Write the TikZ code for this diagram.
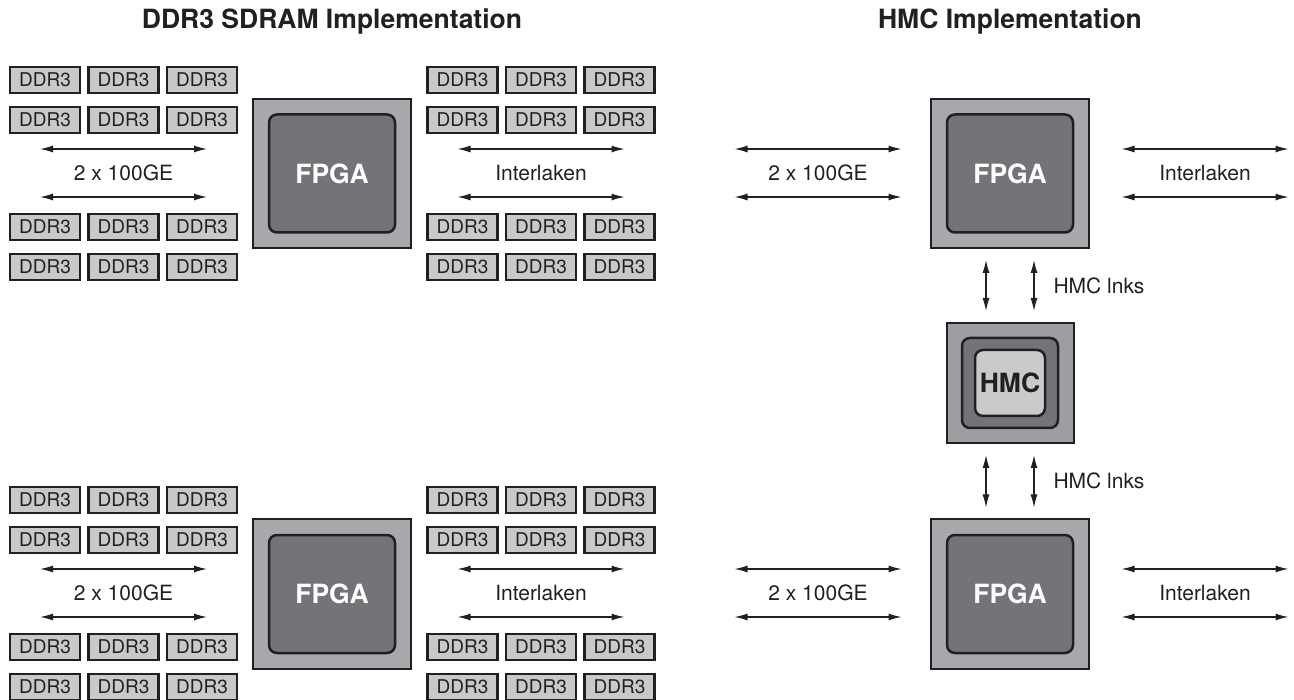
\documentclass[tikz,border=0pt]{standalone}
\usepackage{fontspec}
\setmainfont{TeX Gyre Heros}
\usetikzlibrary{calc,arrows.meta}

\definecolor{inkline}{HTML}{231F20}
\definecolor{ddrfill}{HTML}{C8C9CB}
\definecolor{pkgfill}{HTML}{A8A9AC}
\definecolor{diefill}{HTML}{737478}
\definecolor{hmcouter}{HTML}{9D9EA1}
\definecolor{hmcinner}{HTML}{C9CACC}

\tikzset{
	headline/.style={font=\bfseries\fontsize{26.5}{26.5}\selectfont, text=inkline},
	ddr/.style={draw=inkline, line width=2.4pt, fill=ddrfill, minimum width=70pt, minimum height=26pt, inner sep=0pt, text=inkline, font=\fontsize{19}{19}\selectfont},
	pkg/.style={draw=inkline, line width=2pt, fill=pkgfill, inner sep=0pt},
	die/.style={draw=inkline, line width=2.5pt, fill=diefill, rounded corners=8pt, inner sep=0pt, text=white, font=\bfseries\fontsize{26.5}{26.5}\selectfont},
	lbl/.style={text=inkline, font=\fontsize{21}{21}\selectfont},
	link/.style={{Latex[length=13pt,width=7pt]}-{Latex[length=13pt,width=7pt]}, line width=1.2pt, draw=inkline},
}

% two arrows with a label between them
\newcommand{\linkpair}[4]{%
	\node[lbl] (#1) at ({#2},{#3}) {#4};
	\draw[link] ($(#1)+(-83.5,-24)$) -- ($(#1)+(83.5,-24)$);
	\draw[link] ($(#1)+(-83.5,24)$) -- ($(#1)+(83.5,24)$);
}
% 4 x 3 DDR3 chips round a link pair
\newcommand{\ddrgroup}[4]{%
	\foreach \c/\dx in {a/-78.5,b/0,c/78.5} {
		\foreach \r/\ry in {1/80,2/120,3/227,4/267} {
			\node[ddr] (#3-\r\c) at ({#1+\dx},{#2+\ry}) {DDR3};
		}
	}
	\linkpair{#3-lbl}{#1}{#2+173}{#4}
}
\newcommand{\fpga}[3]{%
	\node[pkg, minimum width=158pt, minimum height=149pt] (#1) at ({#2},{#3}) {};
	\node[die, minimum width=126pt, minimum height=118pt] (#1-die) at (#1) {FPGA};
}

\begin{document}
\begin{tikzpicture}[x=1pt, y=-1pt]
		%%%%% START %%%%%
		\useasboundingbox (0,0) rectangle (1294,700);
		
		\node[headline] (ddrtitle) at (332,22) {DDR3 SDRAM Implementation};
		\node[headline] (hmctitle) at (1010,22) {HMC Implementation};
		
		% DDR3 side
		\ddrgroup{123.5}{0}{ddrTL}{2 x 100GE}
		\ddrgroup{541}{0}{ddrTR}{Interlaken}
		\fpga{fpgaA}{332}{173.5}
		
		\ddrgroup{123.5}{420}{ddrBL}{2 x 100GE}
		\ddrgroup{541}{420}{ddrBR}{Interlaken}
		\fpga{fpgaB}{332}{594}
		
		% HMC side
		\fpga{fpgaT}{1010}{173.5}
		\linkpair{geT}{818}{173}{2 x 100GE}
		\linkpair{ilT}{1205}{173}{Interlaken}
		
		\node[pkg, fill=hmcouter, minimum width=127pt, minimum height=120pt] (hmc) at (1010,383) {};
		\node[die, minimum width=96pt, minimum height=90pt] (hmc-mid) at (hmc) {};
		\node[die, fill=hmcinner, text=inkline, minimum width=70pt, minimum height=66pt] (hmc-die) at (hmc) {HMC};
		
		\fpga{fpgaU}{1010}{594}
		\linkpair{geU}{818}{593}{2 x 100GE}
		\linkpair{ilU}{1205}{593}{Interlaken}
		
		\foreach \dx in {-24,24} {
			\draw[link, shorten <=11pt, shorten >=11pt] ([xshift=\dx pt]fpgaT.south) -- ([xshift=\dx pt]hmc.north);
			\draw[link, shorten <=11pt, shorten >=11pt] ([xshift=\dx pt]hmc.south) -- ([xshift=\dx pt]fpgaU.north);
		}
		\node[lbl, anchor=west] (hmclnkT) at ($(fpgaT.south)!0.5!(hmc.north)+(40,0)$) {HMC lnks};
		\node[lbl, anchor=west] (hmclnkU) at ($(hmc.south)!0.5!(fpgaU.north)+(40,0)$) {HMC lnks};
		%%%%% END %%%%%
	\end{tikzpicture}
\end{document}
